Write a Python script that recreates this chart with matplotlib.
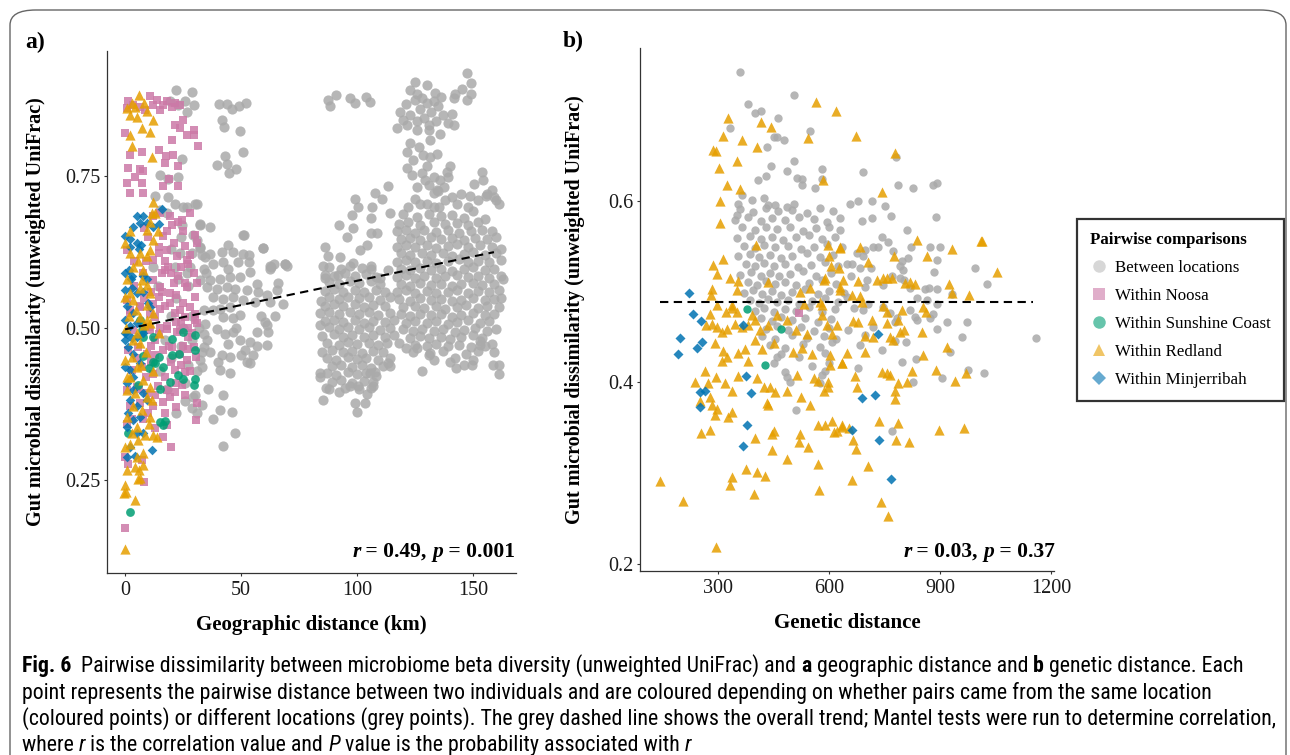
import matplotlib
matplotlib.use("Agg")
import matplotlib.pyplot as plt
from matplotlib.lines import Line2D
from matplotlib.patches import FancyBboxPatch
from matplotlib import font_manager

W, H = 1290, 755

# ---------------- panel a: geographic distance (km) vs dissimilarity ----------------
geo_grey_near = [
    (22.0, .892), (28.7, .889), (19.4, .873), (23.0, .867), (25.9, .873), (29.5, .867), (26.6, .856),
    (24.4, .779), (23.0, .749), (15.1, .752), (18.7, .745), (12.9, .718), (18.7, .716), (21.5, .705),
    (30.9, .705), (25.1, .700), (15.1, .694), (18.0, .689), (24.4, .670), (32.3, .670), (30.9, .645),
    (28.7, .623), (32.3, .632), (23.7, .623), (21.5, .601), (26.6, .590), (22, .55), (27, .57), (25, .50),
    (29, .48), (32, .50), (27, .44), (24, .47), (31, .43), (20, .45), (33, .46), (26, .41), (30, .39),
    (34, .53), (35, .59), (33, .62), (28, .60), (23, .58), (20, .52), (17, .48), (15, .43), (18, .40),
    (14, .57), (12, .60), (24, .65), (20, .63), (26, .38), (22, .36), (31, .36), (29, .52),
]
geo_grey_mid = [
    (30.2, .705), (26.6, .699), (32.3, .672), (36.6, .666), (29.4, .653), (51.0, .653), (44.5, .636),
    (41.7, .625), (46.7, .625), (51.0, .622), (53.2, .620), (59.6, .631), (38.1, .606), (42.4, .609),
    (44.5, .598), (48.8, .609), (53.2, .609), (62.5, .603), (69.0, .606), (69.7, .602), (62.5, .598),
    (36.6, .579), (41.0, .581), (45.3, .584), (49.6, .584), (54.0, .592), (56.8, .573), (39.5, .565),
    (43.8, .568), (47.4, .565), (52.4, .562), (61.1, .554), (65.4, .562), (68.2, .540), (38.1, .551),
    (42.4, .548), (46.7, .551), (51.0, .546), (56.0, .543), (62.5, .543), (41.0, .532), (45.3, .535),
    (49.6, .521), (42.4, .518), (46.7, .516), (60.3, .510), (61.1, .505), (39.5, .499), (43.1, .491),
    (46.7, .494), (56.8, .494), (61.8, .494), (35.2, .480), (49.6, .480), (53.9, .477), (61.1, .472),
    (44.5, .474), (36.6, .461), (51.7, .464), (55.3, .455), (41.7, .455), (45.3, .452), (52.4, .444),
    (53.9, .442), (41.0, .431), (45.3, .426), (33.0, .436), (35.9, .400), (42.4, .390), (28.7, .368),
    (33.0, .373), (41.0, .365), (46.0, .362), (38.1, .351), (47.4, .327), (42.4, .306),
    (32.3, .579), (35.2, .568), (33.8, .598), (36.6, .622), (34.5, .617), (32.3, .633), (34.5, .507),
    (33.8, .491), (32.3, .447), (33.8, .469), (29.4, .387),
    (40.3, .869), (44.1, .868), (46.0, .860), (49.0, .865), (52.0, .870), (41.7, .842), (42.7, .831),
    (49.6, .825), (43.1, .784), (39.8, .768), (44.0, .770), (48.0, .762), (45.0, .755), (51.0, .790),
    (51.3, .653), (59.6, .631), (63.0, .600), (64.0, .605), (69.0, .605), (57.5, .560), (58.5, .520),
    (64.5, .520), (38.0, .530), (48.0, .500), (40.0, .445), (50.0, .455), (57.0, .470), (66.0, .575),
]
geo_grey_100 = [
    (87.5, .875), (88.5, .866), (91.0, .884), (97.0, .878), (99.0, .870), (104.0, .880), (105.5, .872),
    (113.5, .734), (107.7, .722), (110.6, .713), (99.1, .712), (100.5, .700), (97.7, .686), (106.3, .700),
    (106.0, .681), (92.3, .670), (98.4, .664), (95.5, .650), (106.0, .656), (108.6, .656), (86.1, .633),
    (101.3, .629), (104.2, .636), (92.6, .617), (87.5, .618), (85.2, .602), (98.4, .607), (106.0, .598),
    (113.5, .596), (109.9, .582), (86.1, .582), (91.9, .588), (114.2, .689),
    (88, .601), (93, .598), (97, .603), (102, .599), (106, .602),
    (86, .588), (90, .585), (95, .590), (99, .586), (104, .589), (108, .584),
    (88, .576), (92, .573), (97, .577), (101, .574), (106, .578), (110, .572),
    (86, .561), (90, .564), (94, .560), (99, .563), (103, .559), (108, .562), (112, .560),
    (88, .551), (92, .548), (96, .552), (101, .549), (105, .551), (110, .547), (114, .551),
    (86, .537), (90, .540), (94, .536), (99, .539), (103, .535), (107, .538), (112, .536),
    (88, .526), (92, .523), (97, .527), (101, .524), (105, .526), (109, .522), (114, .525),
    (86, .511), (90, .514), (94, .510), (99, .513), (103, .509), (107, .512), (112, .510), (116, .513),
    (88, .501), (92, .498), (96, .502), (101, .499), (105, .501), (110, .497), (114, .500),
    (85, .487), (90, .490), (94, .486), (98, .489), (103, .485), (107, .488), (112, .486), (116, .489),
    (87, .476), (92, .473), (96, .477), (100, .474), (105, .476), (109, .472), (113, .475),
    (85, .461), (89, .464), (94, .460), (98, .463), (102, .459), (107, .462), (111, .460),
    (87, .451), (91, .448), (96, .452), (100, .449), (104, .451), (109, .447), (114, .450),
    (89, .437), (93, .440), (98, .436), (102, .439), (106, .435), (111, .438),
    (87, .426), (91, .423), (96, .427), (100, .424), (104, .426), (108, .422),
    (89, .412), (93, .414), (98, .410), (103, .413), (107, .411),
    (88, .400), (95, .402), (101, .399), (106, .401),
    (85.4, .382), (99.1, .376), (103.4, .376), (99.9, .362), (92.2, .395), (86.6, .401), (97.0, .404),
    (100.6, .404), (104.2, .392), (107.0, .404), (105.6, .426), (107.7, .427), (113.4, .442),
    (114.1, .437), (84.2, .426), (84.2, .420), (84.0, .525), (84.5, .545), (84.0, .505),
]
geo_grey_150 = [
    (147.3, .919), (149.1, .903), (149.1, .886), (145.2, .894), (142.3, .886), (141.6, .878), (147.3, .875),
    (133.7, .887), (130.1, .900), (125.0, .905), (122.9, .892), (125.7, .886),
    (118.5, .855), (121.0, .868), (123.0, .850), (125.0, .875), (127.0, .860), (129.0, .845), (130.0, .870),
    (132.0, .855), (134.0, .840), (135.0, .865), (137.0, .850), (139.0, .838), (126.0, .840), (120.0, .843),
    (131.0, .835), (128.0, .878), (133.0, .873), (136.0, .880),
    (117.1, .829), (121.4, .834), (125.7, .826), (130.8, .826), (135.8, .820), (141.6, .834), (140.9, .853),
    (122.9, .804), (126.5, .798), (121.4, .790), (128.6, .785), (124.3, .777), (131.5, .782), (134.4, .787),
    (130.1, .766), (127.9, .755), (133.0, .749), (135.8, .744), (139.4, .749), (140.1, .766), (121.4, .763),
    (123.6, .752), (125.7, .733), (130.8, .735), (134.4, .727), (137.3, .733), (133.0, .722), (138.7, .757),
    (129.3, .744), (131.5, .809),
    (125.0, .712), (130.1, .705), (135.1, .700), (140.9, .716), (148.8, .717), (153.8, .757), (154.3, .744),
    (150.2, .737), (158.1, .727), (160.0, .711), (155.4, .717),
    (122, .700), (127, .705), (133, .700), (138, .710), (143, .705), (148, .700), (152, .710), (156, .720),
    (159, .715), (161, .705), (135, .725), (145, .720), (150, .692), (155, .680), (158, .660), (162, .630),
    (162, .550), (163, .580),
    (120, .687), (126, .683), (131, .688), (136, .684), (141, .686), (146, .682),
    (118, .672), (122, .675), (127, .670), (133, .674), (138, .671), (143, .673), (148, .669), (152, .674),
    (117, .659), (121, .661), (125, .657), (129, .662), (134, .658), (139, .661), (144, .657), (149, .660), (154, .662),
    (119, .647), (123, .649), (127, .645), (132, .650), (136, .646), (141, .648), (146, .645), (151, .649), (156, .646), (160, .650),
    (117, .634), (121, .637), (125, .633), (130, .636), (134, .632), (139, .635), (143, .638), (148, .633), (153, .636), (158, .634),
    (119, .623), (123, .620), (128, .624), (132, .621), (137, .623), (141, .619), (146, .622), (150, .625), (155, .621), (160, .623),
    (117, .609), (121, .612), (125, .608), (130, .611), (134, .607), (139, .610), (144, .613), (148, .608), (152, .611), (157, .609), (162, .612),
    (119, .598), (123, .595), (127, .599), (132, .596), (136, .598), (141, .594), (146, .597), (150, .600), (155, .596), (159, .598),
    (117, .584), (121, .587), (125, .583), (129, .586), (134, .582), (138, .585), (143, .588), (148, .584), (152, .586), (157, .583), (162, .586),
    (119, .573), (123, .570), (127, .574), (132, .571), (136, .573), (141, .569), (145, .572), (150, .575), (154, .571), (159, .573),
    (117, .559), (121, .562), (125, .558), (130, .561), (134, .557), (139, .560), (143, .563), (148, .558), (152, .561), (157, .559), (161, .562),
    (118, .548), (123, .545), (127, .549), (132, .546), (136, .548), (141, .544), (145, .547), (150, .550), (155, .546), (159, .548),
    (120, .534), (125, .537), (129, .533), (134, .536), (138, .532), (143, .535), (147, .538), (152, .533), (156, .536), (161, .534),
    (119, .523), (123, .520), (127, .524), (132, .521), (136, .523), (141, .519), (145, .522), (150, .525), (155, .521), (159, .523),
    (121, .509), (125, .512), (130, .508), (134, .511), (139, .507), (143, .510), (148, .513), (153, .508), (157, .511),
    (120, .498), (124, .495), (128, .499), (133, .496), (137, .498), (142, .494), (146, .497), (151, .500), (156, .496), (160, .498),
    (123, .484), (127, .487), (131, .483), (136, .486), (140, .482), (145, .485), (150, .488), (154, .483),
    (125, .473), (130, .470), (134, .474), (139, .471), (144, .473), (149, .469), (153, .472), (158, .474),
    (124, .460), (131, .455), (137, .462), (142, .450), (147, .458), (152, .462), (155, .470), (159, .460),
    (161, .440), (161, .425), (128, .430), (140, .445), (146, .440), (118, .475), (121, .467), (133, .447),
    (150, .448), (142.7, .434), (149.4, .439), (158.8, .439), (131.4, .459), (125.7, .468), (153.0, .478),
]
geo_noosa = [
    (10.8, .882), (13.7, .875), (16.5, .867), (20.1, .864), (23.7, .867), (0.7, .862), (3.6, .867),
    (6.5, .864), (8.6, .859), (18.0, .873), (21.5, .871), (1.4, .873), (12.2, .867), (15.1, .859),
    (25.1, .842), (21.5, .834), (23.7, .829), (29.5, .826), (29.5, .818), (31.6, .799), (0.0, .821),
    (20.1, .810), (26.6, .818), (2.2, .785), (7.2, .790), (14.4, .793), (17.7, .784), (20.8, .785),
    (17.2, .771), (23.0, .766), (1.4, .763), (6.5, .762), (7.9, .759), (0.7, .739), (4.3, .748),
    (7.2, .739), (16.5, .734), (19.1, .745), (23.0, .734), (2.2, .722), (7.6, .722),
    (15.1, .689), (19.4, .684), (24.4, .678), (28.0, .689), (30.2, .653), (30.9, .640), (25.1, .659),
    (20.1, .670), (16.5, .651), (14.4, .634), (18.0, .629), (22.3, .618), (26.6, .612), (29.5, .590),
    (18.7, .601), (15.8, .590), (23.0, .585), (26.6, .568), (30.9, .574), (15.1, .568), (19.4, .558),
    (25.1, .541), (30.2, .552), (17.2, .536), (21.5, .525), (25.9, .519), (30.2, .514), (12.9, .519),
    (18.0, .503), (23.7, .497), (28.7, .492), (10.8, .497), (14.4, .552), (12.2, .579), (12.2, .612),
    (14.4, .623), (7.9, .590), (0.7, .629), (0.7, .547), (2.2, .525), (6.5, .536),
    (2.2, .530), (6.5, .535), (10.8, .524), (15.1, .532), (19.4, .541), (23.7, .530), (28.0, .535),
    (3.6, .497), (10.1, .502), (14.4, .491), (18.0, .499), (22.3, .494), (27.3, .486),
    (1.4, .464), (5.7, .469), (9.3, .458), (16.5, .464), (20.1, .469), (23.7, .458), (26.6, .447),
    (2.9, .431), (7.2, .436), (12.2, .425), (17.2, .420), (21.5, .431), (25.9, .428),
    (0.7, .398), (5.0, .403), (9.3, .393), (18.0, .398), (21.5, .395), (24.4, .406),
    (2.2, .371), (6.5, .376), (12.2, .371), (16.5, .379), (19.4, .387),
    (0.7, .343), (7.9, .351), (12.9, .335), (16.5, .321), (19.7, .305), (0.0, .288), (1.4, .277),
    (8.3, .246), (7.2, .283), (30.6, .349), (31.2, .376), (30.2, .524), (30.9, .508), (29.5, .469),
    (30.6, .453), (0.0, .171), (11, .56), (9, .61), (17, .61), (21, .575), (27, .605), (13, .48),
    (24, .51), (20, .445), (14, .405), (11, .445), (27, .465), (22, .41), (4, .61), (10, .65),
    (4, .57), (8, .55), (12, .54), (16, .56), (20, .59), (24, .60), (28, .62), (5, .45), (9, .42),
    (13, .39), (17, .36), (22, .37), (26, .39), (28, .43), (24, .44), (19, .47), (15, .50), (11, .47),
    (6, .40), (3, .35), (10, .36), (18, .34), (22, .555), (26, .575), (17, .595), (21, .64), (26, .635),
    (18, .66), (23, .675), (12, .685), (8, .665), (22, .51), (27, .50), (13, .455), (25, .47),
]
geo_sunshine = [
    (2.2, .198), (1.4, .327), (7.9, .485), (12.2, .486), (25.1, .493), (30.2, .488), (20.1, .482),
    (7.9, .454), (12.2, .445), (20.1, .456), (23.3, .458), (30.2, .464), (10.3, .434), (12.9, .442),
    (14.8, .452), (5.7, .406), (16.5, .436), (19.4, .412), (23.0, .423), (25.1, .417), (30.2, .417),
    (29.9, .406), (15.1, .399), (15.1, .346), (16.5, .340), (17.3, .347), (7.2, .497), (6.5, .513),
]
geo_redland = [
    (6.2, .884), (2.9, .870), (4.3, .864), (2.2, .851), (5.0, .848), (7.2, .829), (10.8, .823),
    (12.2, .842), (2.2, .818), (2.9, .799), (11.5, .781), (8.0, .870), (9.5, .858), (1.0, .862),
    (12.2, .707), (11.5, .689), (10.8, .675), (9.3, .662), (12.2, .645), (10.8, .629), (9.3, .618),
    (6.5, .623), (5.7, .610), (3.6, .601), (2.2, .623), (2.2, .659), (7.9, .596), (7.2, .579),
    (9.3, .571), (6.5, .566), (10.8, .558), (2.2, .558), (3.6, .547), (9.3, .538), (0.0, .552),
    (12.2, .525), (14.4, .492), (6.5, .519), (10.8, .508), (5.0, .492), (13.0, .690), (14.0, .660),
    (0.0, .640), (1.0, .580), (4.5, .530), (8.0, .505), (0.5, .500), (1.5, .520),
    (0.0, .447), (2.9, .453), (5.0, .436), (2.2, .420), (7.9, .414), (0.7, .398), (4.3, .393),
    (9.3, .387), (11.5, .382), (3.6, .371), (7.2, .365), (0.7, .354), (10.8, .354), (12.2, .324),
    (8.6, .324), (5.7, .316), (2.2, .310), (7.9, .294), (5.0, .288), (4.3, .272), (6.5, .253),
    (0.7, .267), (0.0, .305), (13.7, .321), (10.1, .343), (5.0, .338), (2.9, .327), (10.8, .403),
    (3.6, .480), (9.3, .513), (6.5, .475), (0.0, .136), (0.0, .242), (0.5, .231), (-0.3, .228),
    (4.3, .217), (5.7, .251), (6.2, .266), (7.9, .275), (9, .46), (12, .43), (1, .42), (7, .44),
]
geo_minjerribah = [
    (5.0, .684), (7.9, .684), (6.5, .673), (3.6, .667), (9.3, .673), (15.8, .696), (0.0, .651),
    (2.2, .646), (5.0, .640), (7.0, .637), (6.0, .630), (14.4, .671), (12.2, .667), (2.2, .634),
    (0.0, .591), (1.5, .596), (3.0, .585), (2.5, .580), (7.9, .585), (9.3, .580), (0.0, .563),
    (2.9, .566), (5.0, .557), (7.9, .560), (10.0, .541), (10.8, .535), (0.7, .536), (3.6, .525),
    (0.0, .514), (2.2, .503), (5.0, .508), (7.9, .492), (0.0, .492), (2.9, .484),
    (0.7, .491), (5.0, .486), (1.4, .469), (3.6, .458), (0.0, .436), (2.2, .431), (6.5, .442),
    (0.7, .409), (3.6, .398), (7.9, .393), (2.2, .382), (5.0, .371), (9.3, .382), (1.4, .360),
    (3.6, .349), (6.5, .354), (0.7, .338), (5.0, .327), (2.2, .305), (0.7, .288), (7.9, .327),
    (3.6, .420), (0.0, .480), (11.6, .300), (4.3, .290),
]
trend_a_x = [0, 159]
trend_a_y = [0.498, 0.625]

# ---------------- panel b: genetic distance vs dissimilarity ----------------
gen_grey = [
    (358, .743), (505, .717), (380, .707), (400, .697), (415, .700), (463, .692), (333, .681), (450, .671),
    (460, .671), (549, .677), (433, .660), (478, .667), (504, .644), (442, .639), (486, .633), (429, .628),
    (409, .623), (513, .626), (528, .625), (526, .618), (562, .615), (582, .635), (580, .625), (364, .607),
    (355, .597), (350, .585), (391, .601), (423, .603), (436, .596), (454, .596), (486, .594), (504, .597),
    (781, .649), (693, .632), (787, .618), (826, .615), (882, .618), (891, .620), (657, .597), (679, .600),
    (715, .600), (750, .595), (688, .578), (717, .581), (767, .584), (888, .582), (630, .568), (810, .568),
    (742, .561), (760, .555), (720, .549), (733, .550), (822, .549), (873, .550), (900, .549), (675, .543),
    (693, .539), (697, .546), (772, .545), (796, .534), (814, .537), (792, .528), (801, .524), (893, .535),
    (648, .531), (663, .531), (684, .526), (713, .526), (885, .522), (660, .518), (697, .505), (702, .513),
    (769, .518), (747, .508), (792, .515), (803, .513), (860, .503), (869, .504), (891, .503), (819, .504),
    (837, .493), (866, .491), (891, .487), (932, .498), (648, .494), (668, .482), (693, .480), (706, .487),
    (747, .483), (765, .477), (783, .471), (779, .467), (819, .480), (833, .472), (837, .469), (873, .471),
    (880, .476), (893, .459), (920, .467), (974, .467), (995, .526), (1026, .509), (652, .458), (684, .441),
    (697, .452), (720, .461), (742, .436), (778, .446), (807, .445), (959, .450), (927, .434), (1160, .449),
    (796, .423), (835, .426), (679, .416), (826, .400), (975, .414), (1020, .410),
    (360, .591), (395, .588), (430, .592), (462, .589), (500, .590), (540, .587), (575, .592), (610, .589),
    (345, .579), (380, .582), (415, .578), (445, .581), (480, .579), (520, .583), (560, .580), (595, .577), (630, .581),
    (365, .571), (400, .568), (430, .572), (460, .569), (495, .571), (530, .567), (565, .570), (600, .572),
    (350, .559), (385, .562), (415, .558), (445, .561), (475, .557), (510, .560), (545, .563), (580, .558), (615, .561),
    (370, .551), (400, .548), (425, .552), (455, .549), (490, .551), (525, .547), (560, .550), (595, .553), (635, .549),
    (355, .539), (385, .542), (410, .538), (440, .541), (470, .537), (500, .540), (540, .543), (575, .538), (610, .541),
    (375, .531), (400, .528), (425, .532), (450, .529), (480, .531), (515, .527), (550, .530), (590, .533), (625, .529),
    (360, .519), (390, .522), (415, .518), (440, .521), (465, .517), (495, .520), (530, .523), (565, .518), (605, .521),
    (380, .511), (405, .508), (430, .512), (455, .509), (480, .511), (510, .507), (545, .510), (580, .513), (620, .509),
    (370, .499), (395, .502), (420, .498), (445, .501), (470, .497), (500, .500), (535, .503), (570, .498), (600, .501), (640, .499),
    (385, .491), (410, .488), (435, .492), (460, .489), (490, .491), (520, .487), (555, .490), (590, .493), (625, .489),
    (400, .479), (425, .482), (450, .478), (480, .481), (510, .479), (545, .483), (580, .478), (615, .481),
    (415, .471), (445, .468), (470, .472), (500, .469), (535, .471), (570, .467), (605, .470),
    (430, .459), (460, .462), (490, .458), (525, .461), (560, .457), (600, .460),
    (420, .451), (455, .448), (500, .452), (540, .449), (585, .451), (620, .448),
    (440, .441), (480, .438), (530, .442), (575, .439), (470, .431), (520, .428), (590, .432),
    (450, .421), (555, .418), (600, .422), (480, .411), (580, .408), (495, .401), (575, .399),
    (487, .406), (511, .370), (459, .428), (589, .413), (607, .445), (771, .346), (905, .405),
]
gen_redland = [
    (564, .709), (619, .700), (328, .692), (416, .687), (442, .682), (314, .672), (366, .667), (544, .670),
    (405, .660), (287, .656), (295, .655), (352, .644), (303, .637), (325, .618), (359, .613), (583, .623),
    (304, .600), (304, .576), (403, .552), (596, .552), (630, .549), (314, .536), (287, .530), (298, .520),
    (601, .540), (605, .528), (627, .526), (332, .515), (353, .512), (585, .513), (589, .515), (637, .513),
    (630, .505), (283, .503), (281, .497), (337, .485), (350, .502), (436, .511), (522, .500), (549, .504),
    (531, .487), (576, .489), (580, .485),
    (296, .485), (277, .476), (322, .478), (337, .482), (351, .478), (267, .463), (283, .465), (298, .461),
    (310, .456), (325, .459), (346, .465), (364, .461), (382, .463), (391, .474), (400, .469), (414, .458),
    (435, .463), (459, .474), (486, .469), (511, .458), (540, .454), (580, .474), (594, .463), (607, .454),
    (621, .463), (292, .443), (314, .435), (323, .428), (310, .424), (355, .432), (373, .437), (382, .424),
    (400, .447), (418, .437), (450, .443), (502, .434), (528, .438), (553, .431), (603, .430), (603, .419),
    (634, .421), (265, .413), (238, .401), (274, .399), (295, .406), (319, .399), (337, .391), (355, .407),
    (406, .405), (423, .395), (441, .395), (454, .390), (486, .391), (513, .408), (524, .384), (549, .375),
    (558, .405), (571, .402), (585, .391), (598, .401), (598, .395), (250, .380), (278, .384), (283, .375),
    (296, .371), (292, .364), (328, .362), (337, .367), (432, .377), (436, .375), (445, .343), (450, .347),
    (400, .339), (445, .325), (522, .343), (520, .334), (544, .329), (486, .316), (569, .310), (254, .344),
    (277, .348), (376, .305), (405, .301), (427, .297), (337, .296), (331, .287), (396, .277), (574, .281),
    (142, .291), (206, .269), (295, .218), (569, .353), (589, .353), (607, .358), (614, .345), (634, .351),
    (655, .350),
    (673, .672), (778, .653), (742, .610), (1013, .556), (837, .557), (933, .547), (866, .540), (1053, .522),
    (630, .548), (684, .550), (704, .533), (776, .539), (679, .512), (729, .513), (747, .515), (756, .515),
    (769, .515), (806, .510), (819, .511), (833, .509), (925, .509), (933, .499), (978, .496), (630, .502),
    (661, .497), (684, .495), (688, .489), (745, .484), (756, .478), (796, .480), (855, .483), (862, .478),
    (666, .468), (679, .467), (715, .469), (756, .466), (787, .469), (792, .456), (803, .458), (851, .456),
    (720, .450), (697, .451), (765, .450), (774, .447), (648, .432), (697, .434), (855, .430), (918, .439),
    (889, .414), (824, .413), (742, .412), (756, .410), (765, .408), (941, .402), (970, .410), (810, .400),
    (787, .399), (670, .407), (675, .395), (778, .391), (778, .382), (787, .355), (634, .353), (896, .348),
    (965, .350), (634, .421), (740, .268), (758, .253), (706, .308), (662, .292), (782, .337), (817, .334),
    (736, .357), (666, .337), (672, .327), (621, .346), (1011, .556),
]
gen_minjerribah = [
    (222, .499), (233, .476), (253, .468), (197, .449), (191, .431), (243, .438), (256, .445), (367, .463),
    (375, .407), (252, .389), (266, .391), (250, .373), (388, .388), (379, .353), (367, .330), (689, .383),
    (724, .386), (732, .453), (663, .348), (736, .336), (767, .294),
]
gen_sunshine = [(379, .481), (469, .459), (427, .419)]
gen_noosa = [(518, .477)]
trend_b_x = [143, 1152]
trend_b_y = [0.489, 0.489]

series_labels = ["Between locations", "Within Noosa", "Within Sunshine Coast",
                 "Within Redland", "Within Minjerribah"]
series_colors = ["#aaaaaa", "#CC79A7", "#009E73", "#E69F00", "#0072B2"]
series_markers = ["o", "s", "o", "^", "D"]


def xy(pts):
    return [p[0] for p in pts], [p[1] for p in pts]


plt.rcParams["font.family"] = ["Liberation Serif", "DejaVu Serif"]

fig = plt.figure(figsize=(W / 100, H / 100), dpi=100)
ax_a = fig.add_axes([107 / W, 1 - 573 / H, (516 - 107) / W, (573 - 51) / H])
ax_b = fig.add_axes([640 / W, 1 - 571 / H, (1054 - 640) / W, (571 - 48) / H])

alpha = 0.85
# panel a
ax_a.scatter(*xy(geo_grey_near + geo_grey_mid + geo_grey_100 + geo_grey_150),
             s=54, c=series_colors[0], marker="o", alpha=alpha, linewidths=0, zorder=1)
ax_a.scatter(*xy(geo_noosa), s=32, c=series_colors[1], marker="s", alpha=alpha, linewidths=0, zorder=2)
ax_a.scatter(*xy(geo_sunshine), s=40, c=series_colors[2], marker="o", alpha=alpha, linewidths=0, zorder=3)
ax_a.scatter(*xy(geo_minjerribah), s=24, c=series_colors[4], marker="D", alpha=alpha, linewidths=0, zorder=4)
ax_a.scatter(*xy(geo_redland), s=54, c=series_colors[3], marker="^", alpha=alpha, linewidths=0, zorder=5)
ax_a.plot(trend_a_x, trend_a_y, ls=(0, (4, 2.6)), color="black", lw=1.5, zorder=6)

# panel b
ax_b.scatter(*xy(gen_grey), s=36, c=series_colors[0], marker="o", alpha=alpha, linewidths=0, zorder=1)
ax_b.scatter(*xy(gen_noosa), s=28, c=series_colors[1], marker="s", alpha=alpha, linewidths=0, zorder=2)
ax_b.scatter(*xy(gen_sunshine), s=36, c=series_colors[2], marker="o", alpha=alpha, linewidths=0, zorder=3)
ax_b.scatter(*xy(gen_redland), s=54, c=series_colors[3], marker="^", alpha=alpha, linewidths=0, zorder=4)
ax_b.scatter(*xy(gen_minjerribah), s=26, c=series_colors[4], marker="D", alpha=alpha, linewidths=0, zorder=5)
ax_b.plot(trend_b_x, trend_b_y, ls=(0, (4, 2.6)), color="black", lw=1.5, zorder=6)

ax_a.set_xlim(-7.8, 168.5)
ax_a.set_ylim(0.097, 0.956)
ax_a.set_xticks([0, 50, 100, 150])
ax_a.set_yticks([0.25, 0.50, 0.75])
ax_a.set_yticklabels(["0.25", "0.50", "0.75"])
ax_b.set_xlim(89, 1208)
ax_b.set_ylim(0.192, 0.769)
ax_b.set_xticks([300, 600, 900, 1200])
ax_b.set_yticks([0.2, 0.4, 0.6])
ax_b.set_yticklabels(["0.2", "0.4", "0.6"])

for ax in (ax_a, ax_b):
    for side in ("top", "right"):
        ax.spines[side].set_visible(False)
    for side in ("left", "bottom"):
        ax.spines[side].set_color("#333333")
        ax.spines[side].set_linewidth(0.9)
    ax.tick_params(axis="both", length=2.5, width=0.8, color="#333333",
                   labelsize=14.5, labelcolor="#1a1a1a")
    ax.tick_params(axis="x", pad=3)
    ax.tick_params(axis="y", pad=2)
    ax.set_facecolor("white")

ax_a.set_xlabel("Geographic distance (km)", fontsize=15, fontweight="bold")
ax_b.set_xlabel("Genetic distance", fontsize=15, fontweight="bold")
for ax, lx in ((ax_a, -0.174), (ax_b, -0.156)):
    ax.set_ylabel("Gut microbial dissimilarity (unweighted UniFrac)", fontsize=14.5, fontweight="bold")
    ax.yaxis.label.set_verticalalignment("center")
    ax.yaxis.set_label_coords(lx, 0.5)
    ax.xaxis.label.set_verticalalignment("center")
    ax.xaxis.set_label_coords(0.5, -0.1)

fig.text(25 / W, 1 - 48 / H, "a)", fontsize=17, fontweight="bold", va="baseline")
fig.text(563 / W, 1 - 47 / H, "b)", fontsize=17, fontweight="bold", va="baseline")

renderer = fig.canvas.get_renderer()


def draw_runs(x_px, y_px, runs, size, family, ha="left", stretch="normal"):
    # runs: (text, weight, style); x_px/y_px measured from top-left in pixels
    made = []
    for s, wt, st in runs:
        t = fig.text(0, 0, s, fontsize=size, family=family, fontweight=wt,
                     fontstyle=st, fontstretch=stretch, va="baseline", ha="left")
        made.append((t, t.get_window_extent(renderer).width))
    total = sum(w for _, w in made)
    cur = x_px - total if ha == "right" else x_px
    for t, w in made:
        t.set_position((cur / W, 1 - y_px / H))
        cur += w
    return total


serif = ["Liberation Serif"]
draw_runs(515, 557, [("r", "bold", "italic"), (" = 0.49, ", "bold", "normal"),
                     ("p", "bold", "italic"), (" = 0.001", "bold", "normal")], 15.5, serif, ha="right")
draw_runs(1055, 557, [("r", "bold", "italic"), (" = 0.03, ", "bold", "normal"),
                      ("p", "bold", "italic"), (" = 0.37", "bold", "normal")], 15.5, serif, ha="right")

handles = [Line2D([], [], ls="none", marker=m, color=c, alpha=0.6,
                  markersize=(9 if m != "D" else 7), markeredgewidth=0)
           for m, c in zip(series_markers, series_colors)]
handles[0].set_color("#bdbdbd")
leg = fig.legend(handles, series_labels, loc="upper left",
                 bbox_to_anchor=(1077 / W, 1 - 219 / H), frameon=True, fancybox=False,
                 edgecolor="black", fontsize=12.2, title="Pairwise comparisons",
                 title_fontproperties={"weight": "bold", "size": 12.2, "family": "Liberation Serif"},
                 alignment="left", handletextpad=0.45, handlelength=1.0, labelspacing=0.7,
                 borderpad=0.78, borderaxespad=0, handleheight=0.7)
leg.get_frame().set_linewidth(1.6)

# caption font: prefer a narrow / condensed sans if one is installed
cap_family, cap_stretch = ["Liberation Sans"], "normal"
names = {f.name for f in font_manager.fontManager.ttflist}
for n in ["Liberation Sans Narrow", "Roboto Condensed", "Open Sans Condensed",
          "Noto Sans Condensed", "DejaVu Sans Condensed"]:
    if n in names:
        cap_family = [n]
        break
else:
    for fam in ["Noto Sans", "Open Sans", "DejaVu Sans", "Roboto"]:
        if any(f.name == fam and "ondensed" in f.fname for f in font_manager.fontManager.ttflist):
            cap_family, cap_stretch = [fam], "condensed"
            break

cap_lines = [
    [("Fig. 6", "bold", "normal"), ("  Pairwise dissimilarity between microbiome beta diversity (unweighted UniFrac) and ", "normal", "normal"),
     ("a", "bold", "normal"), (" geographic distance and ", "normal", "normal"), ("b", "bold", "normal"),
     (" genetic distance. Each", "normal", "normal")],
    [("point represents the pairwise distance between two individuals and are coloured depending on whether pairs came from the same location", "normal", "normal")],
    [("(coloured points) or different locations (grey points). The grey dashed line shows the overall trend; Mantel tests were run to determine correlation,", "normal", "normal")],
    [("where ", "normal", "normal"), ("r", "normal", "italic"), (" is the correlation value and ", "normal", "normal"),
     ("P", "normal", "italic"), (" value is the probability associated with ", "normal", "normal"), ("r", "normal", "italic")],
]
probe = []
for s, wt, st in cap_lines[0]:
    t = fig.text(0, 0, s, fontsize=12, family=cap_family, fontweight=wt, fontstyle=st,
                 fontstretch=cap_stretch)
    probe.append(t.get_window_extent(renderer).width)
    t.remove()
cap_size = 12 * (1243 - 22) / sum(probe)
for line, y in zip(cap_lines, [672, 699, 725, 751]):
    draw_runs(22, y, line, cap_size, cap_family, stretch=cap_stretch)

border = FancyBboxPatch((10 / W, -0.05), (1286 - 10) / W, 1 - 10 / H + 0.05,
                        boxstyle="round,pad=0,rounding_size=0.02", transform=fig.transFigure,
                        facecolor="none", edgecolor="#666666", linewidth=1.0, zorder=-1)
fig.patches.append(border)

fig.savefig("out.png", dpi=100)
